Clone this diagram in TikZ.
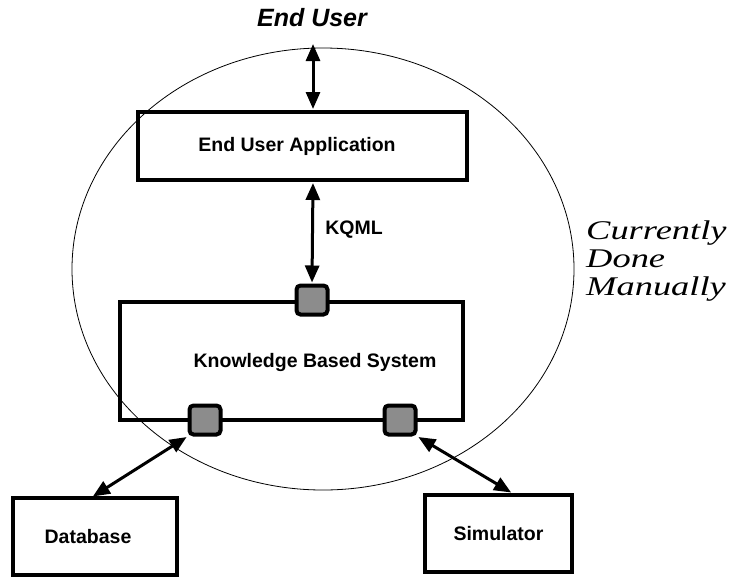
\documentclass[tikz,border=0pt]{standalone}
\usepackage{fontspec}
\setmainfont{Liberation Serif}
\newfontfamily\hv{Liberation Sans}
\newfontfamily\cdmfont[FakeStretch=1.35]{Liberation Serif}
\usetikzlibrary{arrows.meta}
\begin{document}
\begin{tikzpicture}[x=1pt,y=-1pt,
  lbl/.style={font=\hv\bfseries\fontsize{19.5}{22}\selectfont},
  box/.style={draw=black,line width=4pt,inner sep=0pt,lbl},
  port/.style={draw=black,line width=4pt,rounded corners=4pt,fill=black!45,minimum width=31pt,minimum height=29pt,inner sep=0pt},
  conn/.style={line width=3pt,{Triangle[length=17pt,width=14pt]}-{Triangle[length=17pt,width=14pt]},shorten <=1pt,shorten >=1pt}]
\useasboundingbox (0,0) rectangle (738,576);
\draw[line width=0.8pt] (323,269) ellipse [x radius=251, y radius=221];
\node[font=\hv\bfseries\itshape\fontsize{25}{28}\selectfont] (eu) at (312,18) {End User};
\node[box,minimum width=329pt,minimum height=68pt] (eua) at (302,146) {\hspace*{-10pt}End User Application};
\node[box,minimum width=343pt,minimum height=118pt] (kbs) at (291,361) {};
\node[lbl] (kbst) at (315,362) {Knowledge Based System};
\node[port] (pt) at (312,300) {};
\node[port] (pl) at (205,420) {};
\node[port] (pr) at (400,420) {};
\node[box,minimum width=164pt,minimum height=77pt] (db) at (95,536.5) {\hspace*{-14pt}Database};
\node[box,minimum width=147pt,minimum height=77pt] (sim) at (498.5,533.5) {Simulator};
\node[lbl] (kqml) at (354,230) {KQML};
\node[align=left,anchor=north west,inner sep=0pt,font=\cdmfont\itshape\fontsize{27}{28}\selectfont] (cdm) at (586,221) {Currently\\Done\\Manually};
\coordinate (dbt) at (92,497);
\coordinate (simt) at (512,493);
\draw[conn] (313,43) -- (eua.north -| 313,0);
\draw[conn] (eua.south -| 313,0) -- (pt.north);
\draw[conn] (pl.south west) -- (dbt);
\draw[conn] (pr.south east) -- (simt);
\end{tikzpicture}
\end{document}
